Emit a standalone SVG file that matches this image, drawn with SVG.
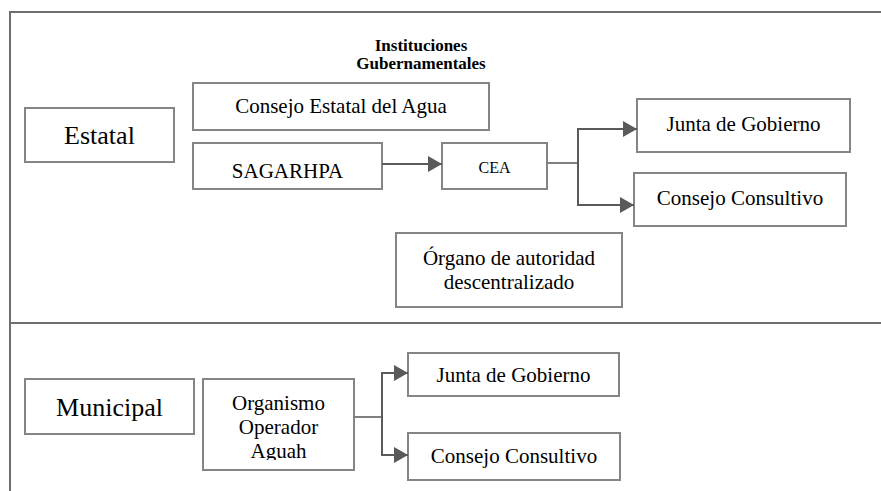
<svg xmlns="http://www.w3.org/2000/svg" width="881" height="491" viewBox="0 0 881 491">
<style>
.box{fill:#fff;stroke:#858585;stroke-width:2}
.t{font-family:'Liberation Serif','Times New Roman','DejaVu Serif',serif;fill:#000;text-anchor:middle;font-size:21px}
.tt{font-size:17px;font-weight:bold}
.big{font-size:26px}
.sm{font-size:16px}
.frame{stroke:#6e6e6e;stroke-width:2;fill:none}
.stub{stroke:#7f7f7f;stroke-width:2;fill:none}
.arr{stroke:#5a5a5a;stroke-width:2;fill:none}
</style>
<defs>
<marker id="ah" markerUnits="userSpaceOnUse" markerWidth="15" markerHeight="16" refX="14" refY="8" orient="auto">
<path d="M0,0 L14,8 L0,16 Z" fill="#5a5a5a"/>
</marker>
<clipPath id="clipOrg"><rect x="203" y="379" width="151" height="81"/></clipPath>
</defs>
<rect width="881" height="491" fill="#fff"/>
<g id="frame">
<path class="frame" d="M10,491 V12 H881"/>
<path class="frame" d="M10,323 H881"/>
</g>
<g id="title">
<text class="t tt" x="421" y="51">Instituciones</text>
<text class="t tt" x="421" y="69">Gubernamentales</text>
</g>
<g id="estatal"><rect class="box" x="25" y="108" width="149" height="54"/><text class="t big" x="99.5" y="144">Estatal</text></g>
<g id="consejo-estatal"><rect class="box" x="193" y="83" width="296" height="47"/><text class="t" x="341" y="113">Consejo Estatal del Agua</text></g>
<g id="sagarhpa"><rect class="box" x="193" y="143" width="189" height="46"/><text class="t" x="287.5" y="178">SAGARHPA</text></g>
<g id="cea"><rect class="box" x="442" y="143" width="105" height="46"/><text class="t sm" x="494.5" y="173">CEA</text></g>
<g id="junta-estatal"><rect class="box" x="637" y="99" width="213" height="53"/><text class="t" x="743.5" y="131">Junta de Gobierno</text></g>
<g id="consejo-consultivo-estatal"><rect class="box" x="634" y="173" width="212" height="53"/><text class="t" x="740" y="205">Consejo Consultivo</text></g>
<g id="organo"><rect class="box" x="396" y="233" width="226" height="74"/><text class="t" x="509" y="265">Órgano de autoridad</text><text class="t" x="509" y="289">descentralizado</text></g>
<g id="municipal"><rect class="box" x="25" y="379" width="169" height="55"/><text class="t big" x="109.5" y="416">Municipal</text></g>
<g id="organismo"><rect class="box" x="203" y="379" width="151" height="91"/><g clip-path="url(#clipOrg)"><text class="t" x="278.5" y="410">Organismo</text><text class="t" x="278.5" y="434">Operador</text><text class="t" x="278.5" y="458">Aguah</text></g></g>
<g id="junta-municipal"><rect class="box" x="408" y="353" width="211" height="43"/><text class="t" x="513.5" y="382">Junta de Gobierno</text></g>
<g id="consejo-consultivo-municipal"><rect class="box" x="408" y="433" width="212" height="47"/><text class="t" x="514" y="463">Consejo Consultivo</text></g>
<g id="connectors">
<path class="arr" d="M382,164 H442" marker-end="url(#ah)"/>
<path class="stub" d="M547,163 H578"/>
<path class="arr" d="M578,129 V205"/>
<path class="arr" d="M577,129 H637" marker-end="url(#ah)"/>
<path class="arr" d="M577,205 H634" marker-end="url(#ah)"/>
<path class="stub" d="M354,417 H382"/>
<path class="arr" d="M382,373 V455"/>
<path class="arr" d="M381,373 H408" marker-end="url(#ah)"/>
<path class="arr" d="M381,455 H408" marker-end="url(#ah)"/>
</g>
</svg>
